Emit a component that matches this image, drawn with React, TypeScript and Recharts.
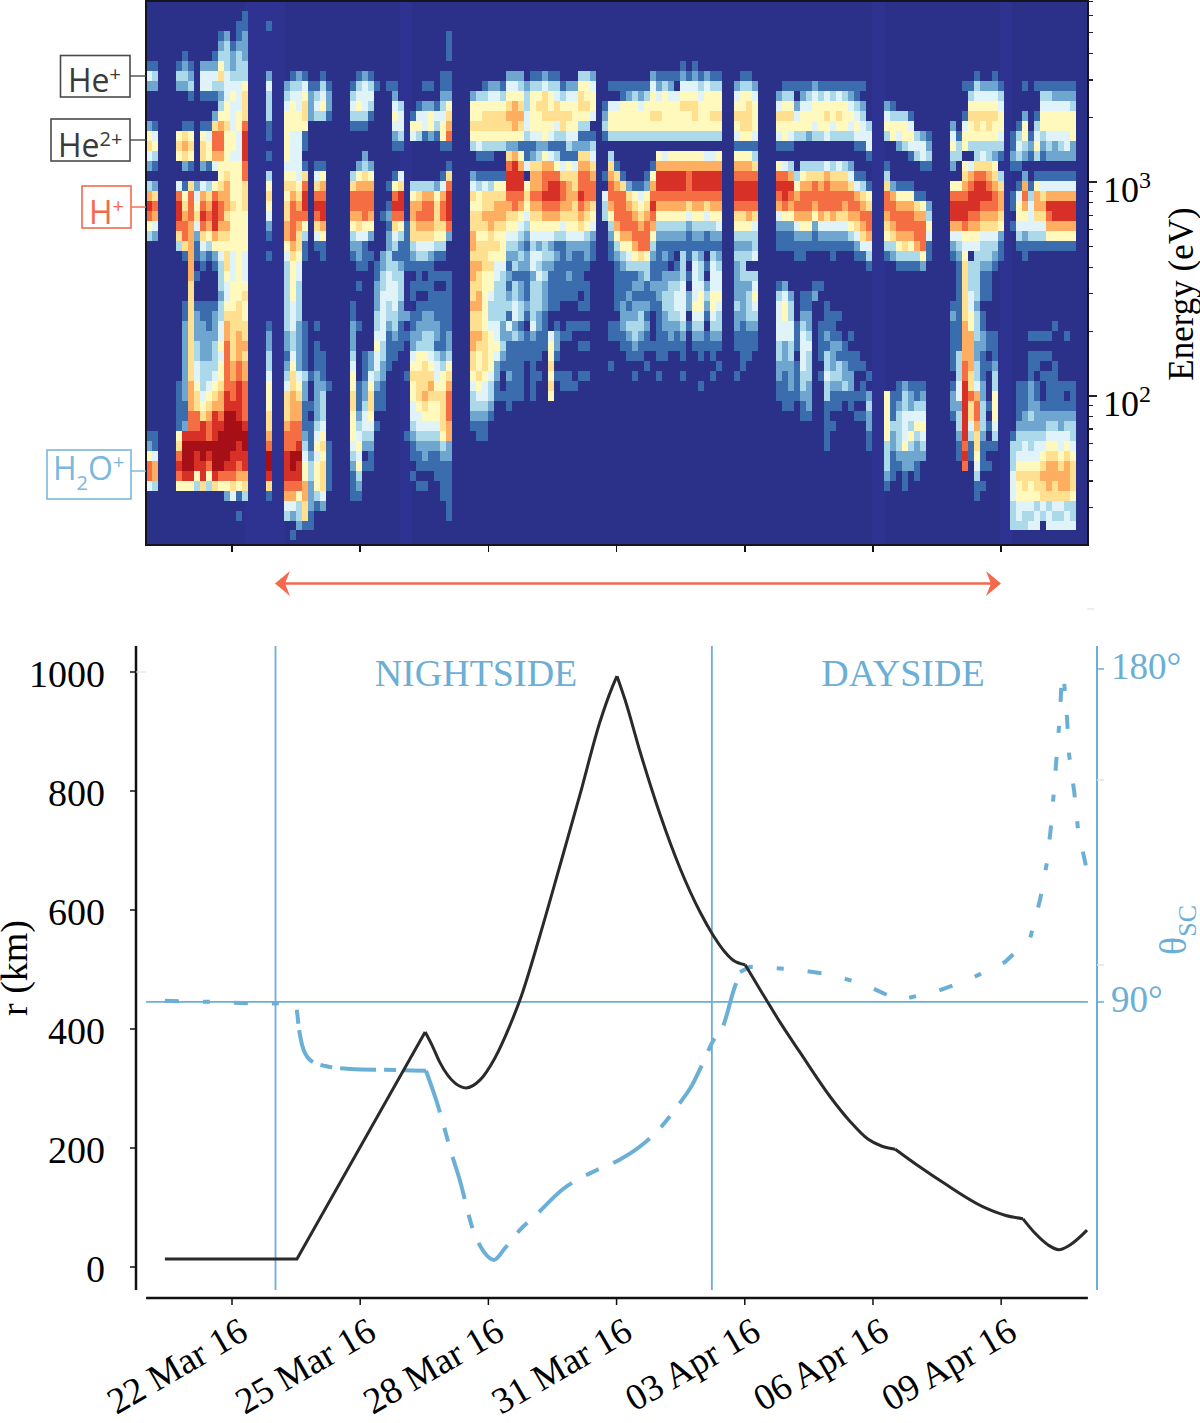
import {
  ComposedChart,
  Line,
  XAxis,
  YAxis,
  ReferenceArea,
  ReferenceLine,
} from "recharts";

const SERIF = "'Liberation Serif', serif";
const SANS = "'Open Sans', sans-serif";
const BLUE = "#6baed6";
const RED = "#f4694c";

// days since 22 Mar 16
const tickDays = [0, 3, 6, 9, 12, 15, 18];
const tickLabels = ["22 Mar 16", "25 Mar 16", "28 Mar 16", "31 Mar 16", "03 Apr 16", "06 Apr 16", "09 Apr 16"];

const rDays = [-1.57, -0.05, 1.52, 4.52, 4.68, 4.87, 5.22, 5.48, 5.8, 6.15, 6.51, 6.74, 7.21, 7.68, 8.14, 8.61, 8.89, 9.01, 9.2, 9.55, 10.02, 10.48, 10.95, 11.23, 11.54, 11.72, 12.01, 12.36, 12.82, 13.29, 13.99, 14.46, 14.88, 15.21, 15.52, 16.1, 16.66, 17.58, 18.09, 18.51, 18.79, 19.1, 19.35, 19.61, 20.01];
const rKm = [13.4, 13.4, 13.4, 395, 373, 343, 309, 301, 314, 351, 407, 449, 558, 676, 793, 916, 973, 993, 953, 866, 760, 671, 597, 561, 529, 516, 508, 466, 412, 361, 287, 245, 215, 203, 198, 168, 141, 101, 87, 81, 57, 37, 29, 37, 62];
// the curve has sharp corners at these samples
const rCorners = [0, 3, 17, 26, 34, 39, 44];

const thetaDays = [-1.57, -0.4, 0.66, 1.36, 1.5, 1.57, 1.64, 1.83, 2.18, 2.76, 3.93, 4.54, 4.8, 5.17, 5.31, 5.66, 5.9, 6.13, 6.39, 6.74, 7.11, 7.72, 8.54, 9.06, 9.6, 10.04, 10.48, 10.77, 11.02, 11.23, 11.51, 11.72, 11.89, 12.12, 13.06, 13.92, 14.77, 15.59, 16.45, 17.27, 18.09, 18.68, 18.91, 19.07, 19.17, 19.24, 19.31, 19.38, 19.42, 19.47, 19.54, 19.59, 19.71, 19.8, 19.99];
const thetaDeg = [90.3, 90, 89.5, 89.7, 89.7, 82.4, 78.4, 74.3, 72.7, 71.9, 71.6, 71.4, 62.7, 47.8, 42.7, 27.8, 22.4, 20.3, 23.5, 28.4, 32.4, 39.2, 44.6, 47.3, 51.4, 56.2, 62.7, 67.6, 73.5, 78.9, 84, 92.4, 98.1, 99.5, 98.9, 97.6, 94.9, 90.5, 92.7, 96.2, 100.8, 107.3, 117.6, 127.6, 137.8, 147.8, 158.1, 168.1, 178.6, 177, 167, 156.8, 146.8, 136.5, 126.5];

const rTicks = [0, 200, 400, 600, 800, 1000];
const thetaTicks = [90, 100, 150, 180];
const energyTicks = [30, 40, 50, 60, 70, 80, 90, 100, 200, 300, 400, 500, 600, 700, 800, 900, 1000, 2000, 3000, 4000, 5000, 6000, 7000];

// spectrogram: energy bin edges (eV), high to low
const energyEdges = [7015, 6299, 5656, 5079, 4560, 4095, 3677, 3301, 2964, 2662, 2390, 2146, 1927, 1730, 1554, 1395, 1253, 1125, 1011, 907, 815, 732, 657, 590, 530, 476, 427, 384, 345, 310, 278, 250, 224, 201, 181, 162, 146, 131, 118, 106, 95, 85, 76.7, 68.8, 61.8, 55.5, 49.8, 44.8, 40.2, 36.1, 32.4, 29.1, 26.1, 23.5, 21.1, 20.1];
const levelColors: Record<string, string> = {
  "1": "#3a6cae",
  "2": "#6ea6cf",
  "3": "#abd9e9",
  "4": "#e0f3f8",
  "5": "#fff9bd",
  "6": "#fee090",
  "7": "#fdae61",
  "8": "#f46d43",
  "9": "#d73027",
  a: "#a50f15",
};
const binDays = 0.1404;
const firstDay = -2.01;
const lastDay = 20.03;
const quietBands = [[0.3, 1.24], [3.93, 4.21], [14.98, 15.28], [17.97, 18.25]];

// one string per time bin, one character per energy bin, top of the plot first
const heatColumns = [
  "..... .142. ..256 42.37 9853. ..... ..... ..... ...12 5884.",
  "..... .132. ..145 31.26 8742. ..... ..... ..... ...11 4773.",
  "",
  "",
  "",
  "..... .132. ...56 5..48 99863 ..... ..... ...11 11156 8985.",
  "..... 1232. ..167 62.15 67886 1.... 11222 22222 1129a aa95.",
  "..... .1231 ..156 51.68 88777 77766 66666 66677 7889a aa95.",
  "..... ..... ..... ...24 56421 1.1.. 12223 34456 6889a 9953.",
  "..... .2441 ..156 62.47 89864 21... 11222 23334 5699a a996.",
  "..... .2441 ..145 51.36 78753 1.... 11122 23345 6788a 9853.",
  "..... 12431 .2688 74.58 99975 21... 12223 33456 7999a aa96.",
  "...12 35632 35788 75567 88765 43332 33445 45567 789aa aa85.",
  "...23 33444 55655 55677 76765 66544 56778 88889 9aaaa a9852",
  "....1 22345 44455 45555 65555 44455 56666 67788 9aaaa 99864",
  "..112 33344 45544 45555 55555 55555 66677 78899 99aa9 98751 .1...",
  ".1122 23356 66899 98866 65555 44456 55667 67788 889aa 99763",
  "",
  "",
  "",
  "..1.. ..243 3311. 1.356 5421. 1.... ..122 33455 56678 aa961",
  "",
  "",
  "..... ...23 45555 54565 66775 43333 33322 12346 66788 99987 43...",
  "..... ..134 55544 44567 88887 65555 44433 45667 77888 aa987 42.1.",
  "..... ..234 45544 44456 78766 54433 33222 22456 77889 a9985 332..",
  "..... ..145 66511 .1689 98531 1.... ..111 11322 11123 45577 661..",
  "..... ...12 22... ..... ..... ..... ..... ..1.. 1.111 23322 211..",
  "..... ...13 43... .1468 98641 ..... ..1.1 11222 22345 45553 1....",
  "..... ..134 53... .1578 99751 1.... ..... 11123 33456 56664 2....",
  "..... ...12 21... ..... ..... ..... ..... ...1. ....1 1111.",
  "",
  "",
  "",
  "..... ...13 431.. ..368 87532 1.... 11222 34556 65554 32111",
  "..... ..134 531.. .2578 87642 21.1. ..1.. ...11 12345 45321",
  "..... ..244 431.. 23678 88541 11... ..... 11122 34432 .1...",
  "..... ..134 31... .2578 8752. 1.... ..... 22456 65432 11...",
  "..... ...1. ..... ..... ..... .1122 23345 44321 1.1..",
  "..... ..... ..... ..... .1... 22334 44443 32211 1....",
  "..... ...1. ..... ...1. 12122 33444 33211 11...",
  "..... ...12 45421 ..158 98643 13344 43321 1....",
  "..... ..... 34431 ..469 98531 12333 22111",
  "..... ..... ..... ..... ..111 11... .2.1. ..1.. ...1.",
  "..... ..... .154. ...35 77663 21.11 .1122 45655 44321 1.1..",
  "..... ..... 1453. ...36 78764 3111. 11223 55666 54432 11.1.",
  "..... ...1. 2441. ...37 88764 31.1. 12233 56667 65432 21.1.",
  "..... ...1. 2552. ...37 88764 21111 12233 45676 55432 11...",
  "..... ..... 1431. ...25 66653 1.1.1 11221 34456 55432 111..",
  "..... ..112 34551 ..147 88653 1.1.1 11111 23556 66653 21111",
  "...11 1.112 56781 .1689 9982. ..111 11122 35678 88772 21111 11...",
  "",
  "",
  "",
  "..... ....2 55653 ..246 56677 67766 76677 66543 321..",
  "..... ....3 55654 1.135 56656 67667 76676 55654 3211.",
  "..... ...13 56653 1.146 67656 66555 55566 66544 3211.",
  "..... ...24 56653 1.136 67766 56554 33455 55433 21...",
  "..... ...24 56653 ..156 77656 54433 33445 42211",
  "..... ...13 56653 ..156 77655 54333 33223 21..1",
  "..... ..245 67652 68998 76543 21212 31421 11211 1....",
  "..... ..245 77752 79998 86543 23133 44231 11111",
  "..... ..235 67651 57998 75432 32122 33121 11111",
  "..... ...23 34431 14.56 54321 22111 21.11 1....",
  "..... ..135 55541 26778 76543 44233 33421 11111",
  "..... ..135 65542 36778 76542 43433 32211 1.1..",
  "..... ..246 66552 57889 87543 32322 21111",
  "..... ..135 56541 47899 87542 32111 1..45 56565",
  "..... ..134 66431 35899 87531 21111 1.122 1.1..",
  "..... ...13 56631 14688 76431 11111 ...1. ..11.",
  "..... ...24 56543 15677 76542 21211 ..11. ..11.",
  "..... ...24 55542 14667 66542 11111 ..1.. ...1.",
  "..... ..356 65312 67889 87642 1111. 1.1.1 ..1..",
  "..... ..355 65312 67888 76532 21.11 1.1.1 ..1..",
  "..... ..245 54.13 46788 65421 1....",
  "",
  "..... ..... 1231. ..1.4 33...",
  "..... ...1. 4553. 36788 75321 1.... ..11. .1...",
  "..... ...1. 4553. .1678 88753 21111 1.11.",
  "..... ...11 5553. ..168 88875 32111 22211",
  "..... ...12 5553. ...26 78875 43112 12321 1....",
  "..... ...13 5553. ...15 67887 53121 22332 1.1..",
  "..... ...12 4553. ...14 56788 63221 23321 1....",
  "..... ...13 5553. ..125 67888 53311 21211 .1...",
  "..... ..245 5653. .1578 98753 21121 1...1",
  "..... ..124 5653. 57998 75321 11122 11111 1.1..",
  "..... ..135 5553. 47998 75321 21223 32211 1....",
  "..... ..124 5553. 57998 75321 1.233 33221",
  "..... ..1.4 5553. 57998 75321 .1234 43211",
  "..... .1245 6553. 57998 75321 33344 44321 1.1..",
  "..... ..145 6553. 57888 64211 1.1.2 2.1..",
  "..... .1245 6653. 57998 75321 34444 54321",
  "..... ..134 5553. 57998 75321 23345 54321 1..1.",
  "..... ..245 5553. 47998 64311 .1.23 21.11",
  "..... ..135 5653. 47998 75321 34445 54321 1.1..",
  "..... ..135 5653. 57998 75421 23445 43321 .1...",
  "",
  "",
  "..... ...24 56541 57899 86532 32222 32211 ..1..",
  "..... ..135 56651 57899 86532 33322 22111 11...",
  "..... ..135 66651 57899 87532 3.323 33211 1....",
  "..... ...24 55541 36899 86433 4.345 43211",
  "",
  "",
  "",
  "..... ....2 46541 .5898 74211 ...13 44443 32211",
  "..... ...13 56551 .4899 85211 ...24 55442 22111 1....",
  "..... ...13 56541 .3798 75211 ....2 33443 32221 1....",
  "..... ...1. 2453. ..357 87421 1.... ..111 .1111",
  "..... ...12 4553. .3578 87521 1...1 12344 44332 11...",
  "..... ...13 4552. .3678 87521 ....1 12234 33322 21...",
  "..... ...24 5543. .3688 75211 ...12",
  "..... ...13 5553. .3678 87421 ...1. ..111 1.1..",
  "..... ...14 5654. .4788 86421 ..... 11121 33433 11111",
  "..... ...13 5543. .3678 87421 1.... .1112 22321 1.1..",
  "..... ...14 5653. .4678 86421 ..... .1.12 13321 1....",
  "..... ...13 5553. .3678 76421 ..... ....1 12231",
  "..... ...12 4543. .2468 87531 ..... ...1. 11221 1....",
  "..... ...11 34541 ..147 87642 1.... ..... 11..1 .1...",
  "..... ...1. 23441 ..136 78764 1.... ..... .1.11 .1...",
  "..... ..... ..344 1..15 68874 31... ..... ..1.2 32211",
  "",
  "",
  "..... ..... 2453. .1368 87653 1.... ..... ....5 55553 3321.",
  "..... ..... 1355. ...27 88763 2.... ..... ....1 11322 111..",
  "..... ..... .3542 ...15 78875 31... ..... ...11 23333 21...",
  "..... ..... .3553 ...15 78876 31... ..... ...23 34445 2211.",
  "..... ..... .1454 1..15 78875 31... ..... ...12 24353 22...",
  "..... ..... ...34 3...1 67887 31... ..... ...11 34532 211..",
  "..... ..... ...24 41..1 57888 52... ..... ...12 34543 2....",
  "..... ..... ...12 31... 23541 1....",
  "",
  "",
  "",
  "..... ..... ..245 32.58 99742 1.... 12111 11.12 21...",
  "..... ..... ...13 3..58 99743 21111 11111 33344 23321 1....",
  "..... ...1. .1455 .5678 99854 56666 66777 78899 99998 98...",
  "..... ...13 56553 .4789 98754 .3334 45577 77668 66431 1....",
  "..... ..134 56653 36899 98754 33333 23332 23347 88766 54311",
  "..... ...24 56553 46899 87643 32111 .1122 11122 33321 11.1.",
  "..... ...24 56653 36789 87643 32111 ...11 .1... 1.1.1 .1...",
  "..... ..124 56553 25678 87643 21... ...11 12335 55431",
  "..... ...13 45543 1.367 76521 1....",
  "",
  "..... ..... ...11 21..1 1.1.. ..... ..... ..... ...13 33444 333..",
  "..... ..... ..134 31.14 55431 ..... ..... ...11 11233 45655 443..",
  "..... ...1. .2553 2.278 75421 1.... ..... ...11 12234 45665 433..",
  "..... ..... ...12 1..13 44431 ..... ...1. 11122 23233 45655 434..",
  "..... ...1. .1345 3.157 76431 ..... ...1. 11.11 22234 45665 344..",
  "..... ...13 45532 1.146 76431 ..... ...1. 1.1.. 12234 56766 43...",
  "..... ...13 45543 2.147 98751 ..... ...1. 1.111 12345 67776 344..",
  "..... ...12 45542 2.147 99751 ..... ..1.. .1111 12345 67766 434..",
  "..... ...12 45543 2.147 99751 ..... ..... ...11 12244 56776 434..",
  "..... ...12 45544 2.147 99751 ..... ...1. ...1. 12345 67776 344..",
  "..... ...12 35552 2.147 99751 ..... ..... ...11 12334 56665 334..",
  "",
  "",
];

const rRows = rDays.map((day, i) => ({ day, r: rKm[i] }));
const thetaRows = thetaDays.map((day, i) => ({ day, theta: thetaDeg[i] }));
const thetaParts = [
  { rows: thetaRows.slice(0, 6), type: "linear", dash: "14 24 7 24" },
  { rows: thetaRows.slice(5, 12), type: "monotone", dash: "36 8 12 8" },
  { rows: thetaRows.slice(11, 33), type: "monotone", dash: "44 16 14 16" },
  { rows: thetaRows.slice(32), type: "linear", dash: "14 24 7 24" },
];

function heatRuns() {
  const runs: { t0: number; t1: number; hi: number; lo: number; fill: string }[] = [];
  heatColumns.forEach((col, c) => {
    const cells = col.replace(/ /g, "");
    let r = 0;
    while (r < cells.length) {
      const ch = cells[r];
      let end = r + 1;
      while (end < cells.length && cells[end] === ch) end++;
      if (ch !== "." && levelColors[ch]) {
        runs.push({
          t0: firstDay + c * binDays,
          t1: Math.min(lastDay, firstDay + (c + 1) * binDays),
          hi: energyEdges[r],
          lo: energyEdges[Math.min(end, energyEdges.length - 1)],
          fill: levelColors[ch],
        });
      }
      r = end;
    }
  });
  return runs;
}

function EnergyTick({ x, y, payload }: any) {
  const v = payload.value;
  const major = v === 100 || v === 1000;
  return (
    <g>
      <line x1={x} x2={x + (major ? 9 : 5)} y1={y} y2={y} stroke="#222" strokeWidth={major ? 2 : 1.2} />
      {major && (
        <text x={x + 15} y={y + 20} fontFamily={SERIF} fontSize={36} fill="#000">
          10
          <tspan dy={-14} fontSize={24}>{v === 100 ? "2" : "3"}</tspan>
        </text>
      )}
    </g>
  );
}

function ThetaTick({ x, y, payload }: any) {
  const v = payload.value;
  const labelled = v === 90 || v === 180;
  return (
    <g>
      <line x1={x} x2={x + 7} y1={y} y2={y} stroke={labelled ? BLUE : "#e4e4e4"} strokeWidth={1.5} />
      {labelled && (
        <text x={x + 14} y={y + 10} fontFamily={SERIF} fontSize={37} fill={BLUE}>
          {v}°
        </text>
      )}
    </g>
  );
}

function RTick({ x, y, payload }: any) {
  return (
    <g>
      <line x1={x} x2={x + 6} y1={y} y2={y} stroke="#111" strokeWidth={1.5} />
      <text x={x - 25} y={y + 15} textAnchor="end" fontFamily={SERIF} fontSize={38} fill="#000">
        {payload.value}
      </text>
    </g>
  );
}

function DateTick({ x, y, payload }: any) {
  const label = tickLabels[tickDays.indexOf(payload.value)];
  return (
    <text
      x={x + 18}
      y={y + 31}
      textAnchor="end"
      transform={`rotate(-30 ${x + 18} ${y + 31})`}
      fontFamily={SERIF}
      fontSize={37}
      fill="#000"
    >
      {label}
    </text>
  );
}

function SpectrogramChart() {
  const runs = heatRuns();
  return (
    <div style={{ position: "absolute", left: 0, top: 0 }}>
      <ComposedChart
        width={1200}
        height={610}
        data={[{ day: 0 }]}
        margin={{ top: 1, right: 12, bottom: 45, left: 146 }}
        style={{ shapeRendering: "crispEdges" }}
      >
        <XAxis
          type="number"
          dataKey="day"
          domain={[firstDay, lastDay]}
          ticks={tickDays}
          interval={0}
          height={20}
          tickSize={7}
          tickLine={{ stroke: "#111", strokeWidth: 1.5 }}
          axisLine={false}
          tickFormatter={() => ""}
          allowDataOverflow
        />
        <YAxis
          orientation="right"
          type="number"
          scale="log"
          domain={[20.1, 7015]}
          ticks={energyTicks}
          interval={0}
          width={100}
          tickLine={false}
          tickSize={0}
          tickMargin={0}
          axisLine={false}
          tick={EnergyTick}
          allowDataOverflow
        />
        <ReferenceArea x1={firstDay} x2={lastDay} y1={20.1} y2={7015} fill="#2b3188" fillOpacity={1} stroke="none" />
        {quietBands.map((b, i) => (
          <ReferenceArea key={i} x1={b[0]} x2={b[1]} y1={20.1} y2={7015} fill="#2e3392" fillOpacity={1} stroke="none" />
        ))}
        {runs.map((d, i) => (
          <ReferenceArea key={`h${i}`} x1={d.t0} x2={d.t1} y1={d.lo} y2={d.hi} fill={d.fill} fillOpacity={1} stroke="none" />
        ))}
        <ReferenceArea x1={firstDay} x2={lastDay} y1={20.1} y2={7015} fill="none" fillOpacity={0} stroke="#15151f" strokeWidth={2} />
      </ComposedChart>
    </div>
  );
}

function OrbitChart() {
  return (
    <div style={{ position: "absolute", left: 0, top: 0 }}>
      <ComposedChart width={1200} height={1423} margin={{ top: 646, right: 3, bottom: 0, left: 36 }}>
        <XAxis
          type="number"
          dataKey="day"
          xAxisId="t"
          domain={[-2.2466, 20.243]}
          ticks={tickDays}
          interval={0}
          height={125}
          tickSize={7}
          tickLine={{ stroke: "#111", strokeWidth: 1.5 }}
          axisLine={false}
          tick={DateTick}
          allowDataOverflow
        />
        <YAxis
          yAxisId="r"
          type="number"
          domain={[-52.1, 1043.7]}
          ticks={rTicks}
          interval={0}
          width={100}
          tickLine={false}
          tickSize={0}
          tickMargin={0}
          axisLine={false}
          tick={(p: any) => <RTick {...p} x={p.x - 6} />}
          allowDataOverflow
        />
        <YAxis
          yAxisId="theta"
          orientation="right"
          type="number"
          domain={[10, 186.2]}
          ticks={thetaTicks}
          interval={0}
          width={100}
          tickLine={false}
          tickSize={0}
          tickMargin={0}
          axisLine={false}
          tick={ThetaTick}
          allowDataOverflow
        />
        <ReferenceLine xAxisId="t" yAxisId="r" ifOverflow="visible" stroke="#111" strokeWidth={2.5} segment={[{ x: -2.2466, y: -38.7 }, { x: -2.2466, y: 1043.7 }]} />
        <ReferenceLine xAxisId="t" yAxisId="r" ifOverflow="visible" stroke={BLUE} strokeWidth={2} segment={[{ x: 20.243, y: -38.7 }, { x: 20.243, y: 1043.7 }]} />
        <ReferenceLine xAxisId="t" yAxisId="r" ifOverflow="visible" stroke="#111" strokeWidth={2.5} segment={[{ x: firstDay, y: -52.1 }, { x: lastDay, y: -52.1 }]} />
        <ReferenceLine xAxisId="t" yAxisId="r" ifOverflow="visible" stroke="#e0e0e0" strokeWidth={1} segment={[{ x: -2.2466, y: 1000 }, { x: -2.01, y: 1000 }]} />
        <ReferenceLine xAxisId="t" yAxisId="r" ifOverflow="visible" stroke={BLUE} strokeWidth={1.8} segment={[{ x: 1.018, y: -38.7 }, { x: 1.018, y: 1043.7 }]} />
        <ReferenceLine xAxisId="t" yAxisId="r" ifOverflow="visible" stroke={BLUE} strokeWidth={1.8} segment={[{ x: 11.23, y: -38.7 }, { x: 11.23, y: 1043.7 }]} />
        <ReferenceLine xAxisId="t" yAxisId="theta" ifOverflow="visible" stroke={BLUE} strokeWidth={1.8} segment={[{ x: firstDay, y: 90 }, { x: lastDay, y: 90 }]} />
        {thetaParts.map((p, i) => (
          <Line key={i} xAxisId="t" yAxisId="theta" data={p.rows} dataKey="theta" type={p.type as any} stroke={BLUE} strokeWidth={4} strokeDasharray={p.dash} dot={false} isAnimationActive={false} />
        ))}
        {rCorners.slice(1).map((end, i) => (
          <Line key={`r${i}`} xAxisId="t" yAxisId="r" data={rRows.slice(rCorners[i], end + 1)} dataKey="r" type={i === 0 ? "linear" : "monotone"} stroke="#2a2a2a" strokeWidth={3} dot={false} isAnimationActive={false} />
        ))}
      </ComposedChart>
    </div>
  );
}

function IonTag({ x, y, w, h, color, lineY }: any) {
  return (
    <g>
      <rect x={x} y={y} width={w} height={h} fill="#fff" stroke={color} strokeWidth={1.6} />
      <line x1={x + w} x2={146} y1={lineY} y2={lineY} stroke={color} strokeWidth={1.4} />
    </g>
  );
}

function Annotations() {
  const tagGray = "#4a4a4a";
  const tagBlue = "#7ab8dd";
  return (
    <svg width={1200} height={1423} style={{ position: "absolute", left: 0, top: 0, pointerEvents: "none" }}>
      <IonTag x={60.5} y={55.5} w={69.5} h={41.5} color={tagGray} lineY={76} />
      <text x={68} y={92} fontFamily={SANS} fontSize={32} fill="#3a3a3a">He<tspan dy={-11} fontSize={20}>+</tspan></text>
      <IonTag x={51} y={119} w={79} h={42} color={tagGray} lineY={140} />
      <text x={58} y={157} fontFamily={SANS} fontSize={32} fill="#3a3a3a">He<tspan dy={-11} fontSize={20}>2+</tspan></text>
      <IonTag x={82} y={186} w={49} h={42} color={RED} lineY={207} />
      <text x={89} y={224} fontFamily={SANS} fontSize={32} fill={RED}>H<tspan dy={-11} fontSize={20}>+</tspan></text>
      <IonTag x={47} y={450} w={84} h={49} color={tagBlue} lineY={471} />
      <text x={53} y={480} fontFamily={SANS} fontSize={32} fill={tagBlue}>H<tspan dy={10} fontSize={20}>2</tspan><tspan dy={-10}>O</tspan><tspan dy={-11} fontSize={20}>+</tspan></text>

      <line x1={284} x2={992} y1={583.5} y2={583.5} stroke={RED} strokeWidth={2.5} />
      <path d="M275 583.5 L290 571 L285 583.5 L290 596 Z" fill={RED} />
      <path d="M1001 583.5 L986 571 L991 583.5 L986 596 Z" fill={RED} />
      <line x1={1087} x2={1094} y1={609} y2={609} stroke="#ddd" strokeWidth={1} />

      <text x={1193} y={294} textAnchor="middle" transform="rotate(-90 1193 294)" fontFamily={SERIF} fontSize={35} fill="#000">Energy (eV)</text>
      <text x={27} y={968} textAnchor="middle" transform="rotate(-90 27 968)" fontFamily={SERIF} fontSize={38} fill="#000">r (km)</text>
      <text x={476} y={686} textAnchor="middle" fontFamily={SERIF} fontSize={38} fill={BLUE}>NIGHTSIDE</text>
      <text x={903} y={686} textAnchor="middle" fontFamily={SERIF} fontSize={38} fill={BLUE}>DAYSIDE</text>
      <text x={1186} y={955} transform="rotate(-90 1186 955)" fontFamily={SERIF} fontSize={38} fill={BLUE}>θ<tspan dy={10} fontSize={26}>SC</tspan></text>
    </svg>
  );
}

export default function App() {
  return (
    <div style={{ position: "absolute", left: 0, top: 0, width: 1200, height: 1423, background: "#fff", overflow: "hidden" }}>
      <SpectrogramChart />
      <OrbitChart />
      <Annotations />
    </div>
  );
}
